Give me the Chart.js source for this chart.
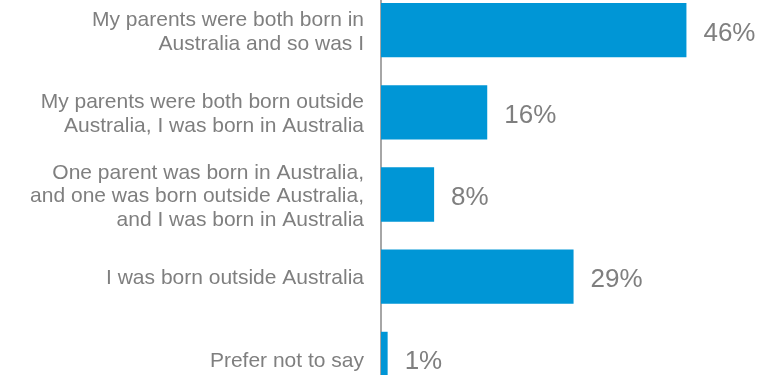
<!DOCTYPE html>
<html>
<head>
<meta charset="utf-8">
<script src="https://cdn.jsdelivr.net/npm/chart.js@4.4.1/dist/chart.umd.min.js"></script>
<style>
  html, body { margin: 0; padding: 0; background: #fff; overflow: hidden; }
  body { width: 782px; height: 375px; position: relative; }
  #wrap { position: absolute; left: 0; top: -11px; width: 782px; height: 411px; }
</style>
</head>
<body>
<div id="wrap"><canvas id="chart"></canvas></div>
<script>
// Categories (split into lines as they are set on the left)
const categories = [
    ['My parents were both born in', 'Australia and so was I'],
    ['My parents were both born outside', 'Australia, I was born in Australia'],
    ['One parent was born in Australia,', 'and one was born outside Australia,', 'and I was born in Australia'],
    'I was born outside Australia',
    'Prefer not to say'
];
const shares = [46, 16, 8, 29, 1];

const BLUE = '#0096d6';
const GREY_TEXT = '#7f7f7f';
const FONT = '"Liberation Sans", Arial, sans-serif';

// Percentage label to the right of each bar
const valueLabels = {
    id: 'valueLabels',
    afterDatasetsDraw(chart) {
        const ctx = chart.ctx;
        const meta = chart.getDatasetMeta(0);
        ctx.save();
        ctx.font = '26px ' + FONT;
        ctx.fillStyle = GREY_TEXT;
        ctx.textAlign = 'left';
        ctx.textBaseline = 'alphabetic';
        meta.data.forEach((bar, i) => {
            ctx.fillText(shares[i] + '%', bar.x + 17, bar.y + 10.5);
        });
        ctx.restore();
    }
};

new Chart(document.getElementById('chart'), {
    type: 'bar',
    data: {
        labels: categories,
        datasets: [{
            data: shares,
            backgroundColor: BLUE,
            borderWidth: 0,
            categoryPercentage: 1,
            barPercentage: 0.66
        }]
    },
    options: {
        indexAxis: 'y',
        responsive: true,
        maintainAspectRatio: false,
        animation: false,
        layout: { padding: { left: 0, right: 69, top: 0, bottom: 0 } },
        plugins: {
            legend: { display: false },
            tooltip: { enabled: false }
        },
        scales: {
            x: {
                display: false,
                min: 0,
                max: 50
            },
            y: {
                // fixed label column, and no extra room for overhanging labels
                afterFit(scale) {
                    scale.width = 381;
                    scale.paddingTop = 0;
                    scale.paddingBottom = 0;
                },
                grid: { display: false, drawTicks: false },
                border: { display: true, color: '#a6a6a6', width: 2 },
                ticks: {
                    color: GREY_TEXT,
                    padding: 17,
                    labelOffset: 2,
                    font: { family: FONT, size: 21, lineHeight: 1.12 }
                }
            }
        }
    },
    plugins: [valueLabels]
});
</script>
</body>
</html>
